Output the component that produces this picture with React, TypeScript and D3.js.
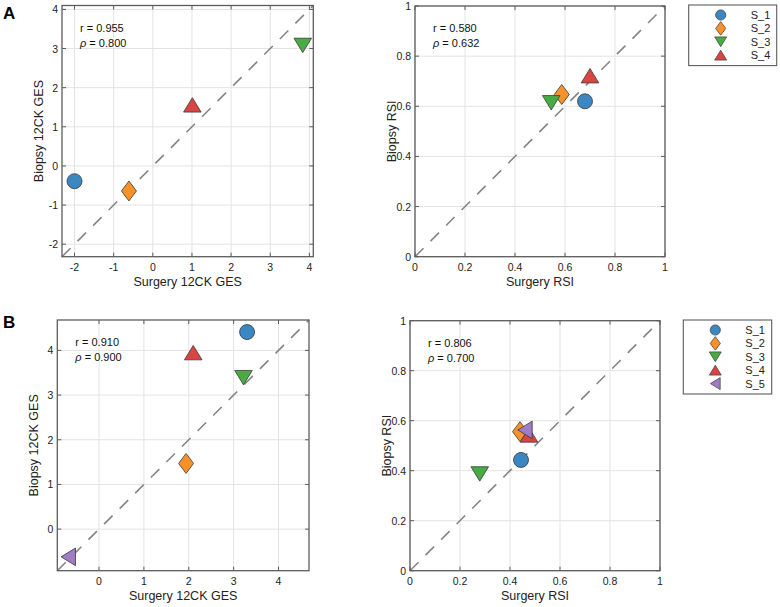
import React from 'react';
import * as d3 from 'd3';

// series metadata
const seriesNames = ['S_1', 'S_2', 'S_3', 'S_4', 'S_5'];
const seriesShapes = ['circle', 'diamond', 'triDown', 'triUp', 'triLeft'];
const seriesColors = ['#3a87c2', '#f7922a', '#47ac44', '#da4442', '#a07cc6'];

// panel A (4 samples)
const aGesSurgery = [-2.0, -0.61, 3.83, 1.01];
const aGesBiopsy = [-0.39, -0.64, 3.08, 1.56];
const aRsiSurgery = [0.68, 0.587, 0.545, 0.70];
const aRsiBiopsy = [0.62, 0.647, 0.614, 0.722];

// panel B (5 samples)
const bGesSurgery = [3.30, 1.94, 3.22, 2.10, -0.685];
const bGesBiopsy = [4.41, 1.47, 3.39, 3.95, -0.62];
const bRsiSurgery = [0.444, 0.44, 0.279, 0.476, 0.46];
const bRsiBiopsy = [0.443, 0.556, 0.387, 0.543, 0.563];

// axis ticks / limits
const aGesDomain = [-2.32, 4.1];
const aGesTicks = [-2, -1, 0, 1, 2, 3, 4];
const bGesDomain = [-0.93, 4.68];
const bGesTicks = [0, 1, 2, 3, 4];
const rsiDomain = [0, 1];
const rsiTicks = [0, 0.2, 0.4, 0.6, 0.8, 1];

const aGesStats = ['0.955', '0.800'];
const aRsiStats = ['0.580', '0.632'];
const bGesStats = ['0.910', '0.900'];
const bRsiStats = ['0.806', '0.700'];

const FONT = '"Liberation Sans", Arial, Helvetica, sans-serif';
const AXIS_COLOR = '#5c5c5c';
const TEXT_COLOR = '#222';

function markerPath(shape: string, k = 1): string {
  const p = d3.path();
  if (shape === 'circle') {
    const r = 7.5 * k;
    p.arc(0, 0, r, 0, Math.PI * 2);
  } else if (shape === 'diamond') {
    const w = 7.5 * k, h = 10 * k;
    p.moveTo(0, -h); p.lineTo(w, 0); p.lineTo(0, h); p.lineTo(-w, 0);
  } else if (shape === 'triUp') {
    const w = 8.8 * k, h = 7.2 * k;
    p.moveTo(0, -h); p.lineTo(w, h); p.lineTo(-w, h);
  } else if (shape === 'triDown') {
    const w = 8.8 * k, h = 7.2 * k;
    p.moveTo(0, h); p.lineTo(w, -h); p.lineTo(-w, -h);
  } else {
    const w = 7.2 * k, h = 8.8 * k;
    p.moveTo(-w, 0); p.lineTo(w, -h); p.lineTo(w, h);
  }
  p.closePath();
  return p.toString();
}

interface PanelProps {
  x0: number; y0: number; x1: number; y1: number;
  domain: number[]; ticks: number[];
  xs: number[]; ys: number[];
  stats: string[];
  xLabel: string; yLabel: string;
}

const Panel = ({ x0, y0, x1, y1, domain, ticks, xs, ys, stats, xLabel, yLabel }: PanelProps) => {
  const x = d3.scaleLinear().domain(domain).range([x0, x1]);
  const y = d3.scaleLinear().domain(domain).range([y1, y0]);
  const fmt = (v: number) => String(Math.round(v * 10) / 10);
  const tl = 4;
  const lo = domain[0], hi = domain[1];
  return (
    <g>
      {/* grid */}
      {ticks.map(t => (
        <g key={'g' + t}>
          <line x1={x(t)} x2={x(t)} y1={y0} y2={y1} stroke="#e3e3e3" strokeWidth={1} />
          <line x1={x0} x2={x1} y1={y(t)} y2={y(t)} stroke="#e3e3e3" strokeWidth={1} />
        </g>
      ))}
      {/* identity line */}
      <line x1={x(lo)} y1={y(lo)} x2={x(hi)} y2={y(hi)} stroke="#858585" strokeWidth={1.6} strokeDasharray="12 10" />
      {/* box */}
      <rect x={x0} y={y0} width={x1 - x0} height={y1 - y0} fill="none" stroke={AXIS_COLOR} strokeWidth={1.3} />
      {/* inward ticks on all sides */}
      {ticks.map(t => (
        <g key={'t' + t} stroke={AXIS_COLOR} strokeWidth={1}>
          <line x1={x(t)} x2={x(t)} y1={y1} y2={y1 - tl} />
          <line x1={x(t)} x2={x(t)} y1={y0} y2={y0 + tl} />
          <line x1={x0} x2={x0 + tl} y1={y(t)} y2={y(t)} />
          <line x1={x1} x2={x1 - tl} y1={y(t)} y2={y(t)} />
        </g>
      ))}
      {/* tick labels */}
      <g fontFamily={FONT} fontSize={10.5} fill={TEXT_COLOR}>
        {ticks.map(t => (
          <text key={'xl' + t} x={x(t)} y={y1 + 14} textAnchor="middle">{fmt(t)}</text>
        ))}
        {ticks.map(t => (
          <text key={'yl' + t} x={x0 - 4} y={y(t) + 4} textAnchor="end">{fmt(t)}</text>
        ))}
      </g>
      {/* axis labels */}
      <text x={(x0 + x1) / 2} y={y1 + 29.5} textAnchor="middle" fontFamily={FONT} fontSize={12.5} fill={TEXT_COLOR}>{xLabel}</text>
      <text transform={`translate(${x0 - 19},${(y0 + y1) / 2}) rotate(-90)`} textAnchor="middle" fontFamily={FONT} fontSize={12.5} fill={TEXT_COLOR}>{yLabel}</text>
      {/* correlation stats */}
      <g fontFamily={FONT} fontSize={11} fill="#111">
        <text x={x0 + 18} y={y0 + 26}>r = {stats[0]}</text>
        <text x={x0 + 18} y={y0 + 41}><tspan fontStyle="italic">ρ</tspan> = {stats[1]}</text>
      </g>
      {/* markers */}
      {xs.map((v, i) => (
        <path key={'m' + i} d={markerPath(seriesShapes[i])} transform={`translate(${x(v)},${y(ys[i])})`}
          fill={seriesColors[i]} stroke="#3a3a3a" strokeWidth={0.8} strokeLinejoin="miter" />
      ))}
    </g>
  );
};

const Legend = ({ x0, y0, w, n }: { x0: number; y0: number; w: number; n: number }) => {
  const step = 13.4;
  const h = n * step + 7;
  return (
    <g>
      <rect x={x0} y={y0} width={w} height={h} fill="#fff" stroke={AXIS_COLOR} strokeWidth={1.1} />
      {seriesNames.slice(0, n).map((s, i) => (
        <g key={s} transform={`translate(0,${y0 + 10 + i * step})`}>
          <path d={markerPath(seriesShapes[i], 0.68)} transform={`translate(${x0 + 32},0)`}
            fill={seriesColors[i]} stroke="#3a3a3a" strokeWidth={0.7} />
          <text x={x0 + 62} y={4} fontFamily={FONT} fontSize={11} fill={TEXT_COLOR}>{s}</text>
        </g>
      ))}
    </g>
  );
};

export default function App() {
  return (
    <svg width={780} height={607} style={{ display: 'block', position: 'absolute', left: 0, top: 0, background: '#fff' }}>
      <rect width={780} height={607} fill="#fff" />
      <text x={3} y={19} fontFamily={FONT} fontWeight="bold" fontSize={17} fill="#000">A</text>
      <text x={3} y={328} fontFamily={FONT} fontWeight="bold" fontSize={17} fill="#000">B</text>

      <Panel x0={62} y0={5.5} x1={313.3} y1={256.7} domain={aGesDomain} ticks={aGesTicks}
        xs={aGesSurgery} ys={aGesBiopsy} stats={aGesStats} xLabel="Surgery 12CK GES" yLabel="Biopsy 12CK GES" />
      <Panel x0={415} y0={6} x1={665} y1={256.7} domain={rsiDomain} ticks={rsiTicks}
        xs={aRsiSurgery} ys={aRsiBiopsy} stats={aRsiStats} xLabel="Surgery RSI" yLabel="Biopsy RSI" />
      <Legend x0={688.7} y0={5} w={88} n={4} />

      <Panel x0={57.3} y0={320} x1={309} y1={570.7} domain={bGesDomain} ticks={bGesTicks}
        xs={bGesSurgery} ys={bGesBiopsy} stats={bGesStats} xLabel="Surgery 12CK GES" yLabel="Biopsy 12CK GES" />
      <Panel x0={410} y0={320.7} x1={660} y1={570.7} domain={rsiDomain} ticks={rsiTicks}
        xs={bRsiSurgery} ys={bRsiBiopsy} stats={bRsiStats} xLabel="Surgery RSI" yLabel="Biopsy RSI" />
      <Legend x0={683.3} y0={320} w={88.4} n={5} />
    </svg>
  );
}
